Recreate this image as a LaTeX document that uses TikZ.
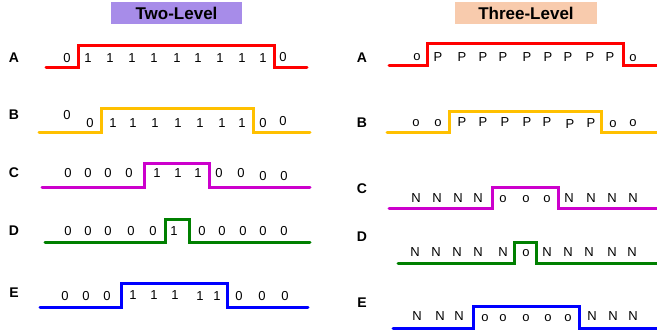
\documentclass[tikz,border=0pt]{standalone}
\usepackage{fontspec}
\setmainfont{Liberation Sans}
\definecolor{wred}{RGB}{255,0,0}
\definecolor{wora}{RGB}{255,192,0}
\definecolor{wmag}{RGB}{204,0,204}
\definecolor{wgrn}{RGB}{0,128,0}
\definecolor{wblu}{RGB}{0,0,255}
\definecolor{tpur}{RGB}{167,140,233}
\definecolor{tpch}{RGB}{248,203,173}
\tikzset{
  wave/.style={line width=3pt, line cap=round, line join=miter},
  sym/.style={inner sep=0pt, font=\fontsize{13}{13}\selectfont},
  rowlab/.style={inner sep=0pt, font=\fontsize{14}{14}\selectfont\bfseries},
  title/.style={inner sep=0pt, font=\fontsize{17}{17}\selectfont\bfseries, minimum height=22pt},
}
\newcommand{\wv}[7]{\draw[wave,#1] (#2,#6) -- (#3,#6) -- (#3,#7) -- (#4,#7) -- (#4,#6) -- (#5,#6);}
\begin{document}
\begin{tikzpicture}[x=1pt,y=-1pt]
\useasboundingbox (0,0) rectangle (657,333);
% titles
\node[title, fill=tpur, minimum width=131pt] (t2) at (176.5,13) {Two-Level};
\node[title, fill=tpch, minimum width=142pt] (t3) at (526,13) {Three-Level};
% row labels
\foreach \n/\x/\y/\t in {la/14/58/A, lb/14/115/B, lc/14/173/C, ld/14/231/D, le/14/293/E,
  ra/362/58/A, rb/362/123/B, rc/362/189/C, rd/362/237/D, re/362/303/E}
  \node[rowlab] (\n) at (\x,\y) {\t};
% waveforms
\wv{wred}{46}{78}{274}{307}{67.5}{45}
\wv{wora}{39}{101}{253}{310}{132}{108}
\wv{wmag}{42}{144}{209}{310}{187}{163}
\wv{wgrn}{45}{165}{189}{310}{242}{219}
\wv{wblu}{40}{121}{227}{308}{307}{283}
\wv{wred}{389}{427}{623}{657}{65}{43}
\wv{wora}{387}{449}{601}{657}{132}{111}
\wv{wmag}{389}{492}{558}{657}{208}{187}
\wv{wgrn}{398}{514}{536}{657}{263}{242}
\wv{wblu}{393}{473}{579}{657}{328}{306}
% two-level symbols
\foreach \x/\y/\t [count=\i] in {67/58/0, 88/58/1, 110/58/1, 132/58/1, 154/58/1, 177/58/1, 198/58/1, 220/58/1, 242/58/1, 263/58/1, 283/57/0}
  \node[sym] (sa\i) at (\x,\y) {\t};
\foreach \x/\y/\t [count=\i] in {67/115/0, 90/123/0, 113/123/1, 133/123/1, 155/123/1, 178/123/1, 200/123/1, 222/123/1, 242/123/1, 263/123/0, 283/121/0}
  \node[sym] (sb\i) at (\x,\y) {\t};
\foreach \x/\y/\t [count=\i] in {68/173/0, 88/173/0, 108/173/0, 129/173/0, 157/173/1, 178/173/1, 198/173/1, 219/173/0, 241/173/0, 263/176/0, 284/176/0}
  \node[sym] (sc\i) at (\x,\y) {\t};
\foreach \x/\y/\t [count=\i] in {68/231/0, 88/231/0, 108/231/0, 131/231/0, 153/231/0, 174/231/1, 202/231/0, 222/231/0, 243/231/0, 263/231/0, 284/231/0}
  \node[sym] (sd\i) at (\x,\y) {\t};
\foreach \x/\y/\t [count=\i] in {65/296/0, 86/296/0, 107/296/0, 133/295/1, 154/295/1, 175/295/1, 200/296/1, 217/296/1, 239/296/0, 262/296/0, 285/296/0}
  \node[sym] (se\i) at (\x,\y) {\t};
% three-level symbols
\foreach \x/\y/\t [count=\i] in {417/57/o, 438/57/P, 462/57/P, 483/57/P, 503/57/P, 527/57/P, 548/57/P, 568/57/P, 590/57/P, 610/57/P, 633/58/o}
  \node[sym] (ta\i) at (\x,\y) {\t};
\foreach \x/\y/\t [count=\i] in {416/123/o, 438/123/o, 462/122/P, 483/122/P, 505/122/P, 527/122/P, 547/122/P, 570/124/P, 591/123/P, 613/124/o, 633/123/o}
  \node[sym] (tb\i) at (\x,\y) {\t};
\foreach \x/\y/\t [count=\i] in {416/198/N, 437/198/N, 458/198/N, 478/198/N, 503/199/o, 526/199/o, 547/199/o, 569/198/N, 591/198/N, 612/198/N, 633/198/N}
  \node[sym] (tc\i) at (\x,\y) {\t};
\foreach \x/\y/\t [count=\i] in {415/252/N, 436/252/N, 457/252/N, 478/252/N, 503/252/N, 526/253/o, 547/252/N, 568/252/N, 589/252/N, 612/252/N, 632/252/N}
  \node[sym] (td\i) at (\x,\y) {\t};
\foreach \x/\y/\t [count=\i] in {417/316/N, 440/316/N, 459/316/N, 485/318/o, 503/318/o, 526/318/o, 548/318/o, 568/318/o, 592/316/N, 613/316/N, 633/316/N}
  \node[sym] (te\i) at (\x,\y) {\t};
\end{tikzpicture}
\end{document}
